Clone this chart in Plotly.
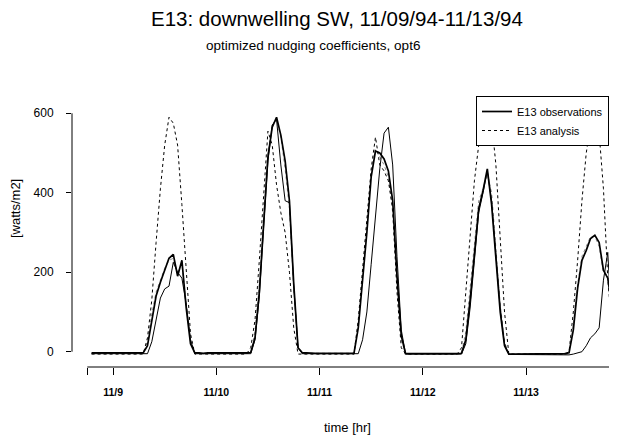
import plotly.graph_objects as go

# ---- data (hours from 11/09/94 00:00, hourly) ----
hours = list(range(-5, 118))
day_ticks = [-6, 0, 24, 48, 72, 96]
day_labels = ["", "11/9", "11/10", "11/11", "11/12", "11/13"]
y_ticks = [0, 200, 400, 600]

obs_pre = [-3, -3, -4, -3, -3]
obs_d1 = [-3, -3, -4, -3, -3, -3, -3, -3, 15, 80, 140, 175, 205, 235, 245, 190, 230, 110, 20, -3, -3, -4, -3, -3]
obs_d2 = [-3, -3, -3, -4, -3, -3, -3, -3, -2, 35, 150, 330, 490, 565, 590, 545, 480, 380, 170, 10, -3, -3, -4, -4]
obs_d3 = [-4, -4, -4, -5, -4, -4, -4, -4, -4, 60, 175, 300, 440, 505, 500, 485, 455, 380, 190, 40, -5, -5, -5, -5]
obs_d4 = [-5, -5, -6, -5, -5, -5, -6, -5, -5, -4, 30, 130, 250, 360, 405, 460, 370, 240, 100, 15, -6, -6, -6, -6]
obs_d5 = [-6, -6, -6, -6, -6, -6, -6, -6, -6, -5, -3, 55, 160, 230, 255, 285, 293, 275, 205, 185, 110, -3]

thin_pre = [-5, -5, -5, -6, -5]
thin_d1 = [-5, -5, -5, -5, -6, -5, -5, -5, -5, 25, 80, 135, 158, 165, 225, 200, 185, 120, 30, -5, -5, -5, -5, -5]
thin_d2 = [-5, -5, -5, -5, -5, -5, -5, -5, -5, 30, 140, 315, 480, 570, 585, 470, 380, 375, 165, 10, -5, -5, -5, -5]
thin_d3 = [-5, -5, -5, -5, -5, -5, -5, -5, -5, -5, 30, 100, 220, 350, 460, 550, 565, 470, 240, 55, -6, -6, -6, -6]
thin_d4 = [-6, -6, -6, -6, -6, -6, -6, -6, -6, -6, 20, 110, 230, 350, 400, 455, 380, 250, 110, 20, -7, -7, -7, -7]
thin_d5 = [-7, -7, -7, -7, -7, -7, -8, -8, -8, -8, -8, -6, -3, 0, 15, 35, 45, 60, 180, 250, 60, -5]

ana_pre = [-6, -6, -6, -6, -6]
ana_d1 = [-6, -6, -6, -6, -6, -6, -6, -6, 35, 130, 275, 410, 520, 590, 575, 520, 370, 210, 45, -6, -6, -6, -6, -6]
ana_d2 = [-6, -6, -6, -6, -6, -6, -6, -6, 10, 80, 230, 380, 555, 520, 420, 350, 300, 200, 60, -6, -6, -6, -6, -6]
ana_d3 = [-6, -6, -6, -6, -6, -6, -6, -6, -6, 80, 200, 330, 460, 540, 470, 455, 430, 360, 150, 10, -6, -6, -6, -6]
ana_d4 = [-6, -6, -6, -6, -6, -6, -6, -6, -6, 10, 150, 300, 430, 520, 590, 610, 580, 470, 290, 100, -6, -6, -6, -6]
ana_d5 = [-6, -6, -6, -6, -6, -6, -6, -6, -6, -6, 0, 100, 230, 380, 500, 570, 600, 550, 410, 185, 55, -6]

an2_pre = [-4, -4, -4, -4, -4]
an2_d1 = [-4, -4, -4, -4, -4, -4, -4, -4, 25, 95, 150, 180, 210, 230, 235, 200, 220, 120, 25, -4, -4, -4, -4, -4]
an2_d2 = [-4, -4, -4, -4, -4, -4, -4, -4, -4, 50, 170, 340, 500, 570, 585, 540, 460, 360, 160, 15, -4, -4, -4, -4]
an2_d3 = [-4, -4, -4, -4, -4, -4, -4, -4, -4, 70, 190, 310, 450, 510, 490, 470, 440, 350, 170, 30, -5, -5, -5, -5]
an2_d4 = [-5, -5, -5, -5, -5, -5, -5, -5, -5, -5, 50, 160, 280, 380, 410, 450, 400, 260, 120, 25, -6, -6, -6, -6]
an2_d5 = [-6, -6, -6, -6, -6, -6, -6, -6, -6, -6, -6, 70, 170, 240, 265, 290, 290, 265, 200, 190, 120, 0]

obs = obs_pre + obs_d1 + obs_d2 + obs_d3 + obs_d4 + obs_d5
thin = thin_pre + thin_d1 + thin_d2 + thin_d3 + thin_d4 + thin_d5
ana = ana_pre + ana_d1 + ana_d2 + ana_d3 + ana_d4 + ana_d5
an2 = an2_pre + an2_d1 + an2_d2 + an2_d3 + an2_d4 + an2_d5

# ---- layout geometry (page pixels; the page body has an 8px margin) ----
OFF = 8
W, H = 617 - OFF, 436 - OFF
PLOT_L, PLOT_R, PLOT_T, PLOT_B = 72, 617, 90, 367   # page coords of plot area
L, R, T, B = PLOT_L - OFF, 617 - PLOT_R, PLOT_T - OFF, 436 - PLOT_B
PW, PH = PLOT_R - PLOT_L, PLOT_B - PLOT_T
X_RANGE = [-9.55, 117.15]
Y_RANGE = [-38.5, 658.6]


def px(x):
    return (x - PLOT_L) / PW


def py(y):
    return (PLOT_B - y) / PH


FONT = "Liberation Sans, Arial, Helvetica, sans-serif"

fig = go.Figure()
fig.add_trace(go.Scatter(x=hours, y=an2, mode="lines", showlegend=False,
                         line=dict(color="#8a8a8a", width=1, dash="dot")))
fig.add_trace(go.Scatter(x=hours, y=thin, mode="lines", showlegend=False,
                         line=dict(color="black", width=1)))
fig.add_trace(go.Scatter(x=hours, y=obs, mode="lines", name="E13 observations",
                         line=dict(color="black", width=1.7)))
fig.add_trace(go.Scatter(x=hours, y=ana, mode="lines", name="E13 analysis",
                         line=dict(color="black", width=1, dash="dot")))

fig.update_layout(
    width=W, height=H,
    margin=dict(l=L, r=R, t=T, b=B, pad=0),
    paper_bgcolor="white", plot_bgcolor="white",
    font=dict(family=FONT, color="black"),
    showlegend=True,
    legend=dict(x=px(476), y=py(96), xanchor="left", yanchor="top",
                bgcolor="white", bordercolor="black", borderwidth=1,
                font=dict(size=11, family=FONT), traceorder="normal",
                tracegroupgap=0),
    xaxis=dict(range=X_RANGE, tickvals=day_ticks, ticktext=day_labels,
               ticks="outside", ticklen=7, tickcolor="black", tickwidth=1,
               showgrid=False, zeroline=False, showline=False,
               tickfont=dict(size=10.5, weight="bold"), ticklabelstandoff=8),
    yaxis=dict(range=Y_RANGE, tickvals=y_ticks,
               ticks="outside", ticklen=5, tickcolor="black", tickwidth=1,
               showgrid=False, zeroline=False, showline=False,
               tickfont=dict(size=12), ticklabelstandoff=10),
    shapes=[
        dict(type="line", xref="paper", yref="y", x0=0, x1=0, y0=0, y1=600,
             line=dict(color="black", width=1)),
        dict(type="line", xref="x", yref="paper", x0=-6, x1=X_RANGE[1], y0=0, y1=0,
             line=dict(color="black", width=1)),
    ],
    annotations=[
        dict(text="E13: downwelling SW, 11/09/94-11/13/94", xref="paper", yref="paper",
             x=px(337), y=py(19), xanchor="center", yanchor="middle", showarrow=False,
             font=dict(size=20.5)),
        dict(text="optimized nudging coefficients, opt6", xref="paper", yref="paper",
             x=px(313), y=py(46), xanchor="center", yanchor="middle", showarrow=False,
             font=dict(size=13.5)),
        dict(text="[watts/m2]", xref="paper", yref="paper", textangle=-90,
             x=px(15), y=py(209), xanchor="center", yanchor="middle", showarrow=False,
             font=dict(size=13)),
        dict(text="time [hr]", xref="paper", yref="paper",
             x=px(347), y=py(427), xanchor="center", yanchor="middle", showarrow=False,
             font=dict(size=13)),
    ],
)

fig.write_html("out.html")
